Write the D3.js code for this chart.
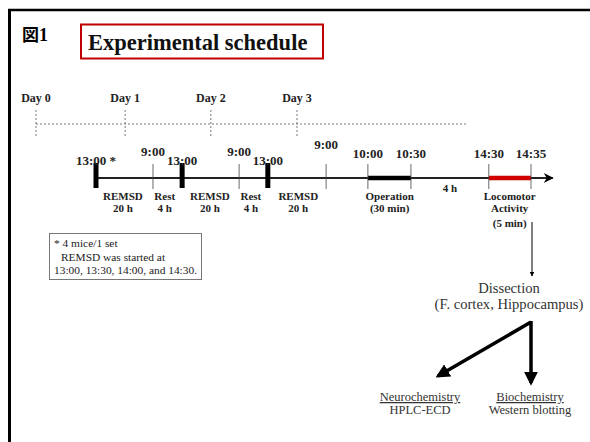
<!DOCTYPE html>
<html><head><meta charset="utf-8">
<script src="https://cdn.jsdelivr.net/npm/d3@7"></script>
<style>
html,body{margin:0;padding:0;background:#fff;}
svg{display:block;}
</style></head>
<body>
<svg id="c" width="590" height="442"></svg>
<script>
// ---- data (schematic positions along the timeline, 0..100 units) ----
const dayLabels = ["Day 0", "Day 1", "Day 2", "Day 3"];
const dayPos = [-13.8, 6.7, 26.4, 46.2];
const majorTimes = ["13:00 *", "13:00", "13:00"];
const majorPos = [0, 19.8, 39.5];
const minorTimes = ["9:00", "9:00", "9:00", "10:00", "10:30", "14:30", "14:35"];
const minorPos = [13.1, 32.9, 52.9, 62.5, 72.4, 90.3, 100];
const segLabels = [["REMSD", "20 h"], ["Rest", "4 h"], ["REMSD", "20 h"], ["Rest", "4 h"], ["REMSD", "20 h"], ["Operation", "(30 min)"], ["Locomotor", "Activity", "(5 min)"]];
const segCenters = [6.2, 15.8, 26.2, 35.6, 46.5, 67.5, 95.1];
const gapLabel = "4 h";
const gapPos = [72.4, 90.3];
const operation = [62.5, 72.4];
const locomotor = [90.3, 100];
const timelineEnd = 105;
const dashedEnd = 85.3;
const noteLines = ["* 4 mice/1 set", "REMSD was started at", "13:00, 13:30, 14:00, and 14:30."];
const dissection = ["Dissection", "(F. cortex, Hippocampus)"];
const outputs = [["Neurochemistry", "HPLC-ECD"], ["Biochemistry", "Western blotting"]];

const SERIF = "Liberation Serif";
const svg = d3.select("#c");
const x = d3.scaleLinear().domain([0, 100]).range([96, 531]);
const yTL = 178;
const T = (sel) => sel.append("text").attr("font-family", SERIF);

// frame
svg.append("line").attr("x1", 8).attr("x2", 590).attr("y1", 10).attr("y2", 10).attr("stroke", "#000").attr("stroke-width", 2.5);
svg.append("line").attr("x1", 9.5).attr("x2", 9.5).attr("y1", 9).attr("y2", 442).attr("stroke", "#000").attr("stroke-width", 3);

// title
const t1 = svg.append("text").attr("x", 22).attr("y", 41).attr("font-size", 17).attr("font-weight", "bold");
t1.append("tspan").attr("font-family", "Noto Sans CJK JP").text("図");
t1.append("tspan").attr("font-family", SERIF).attr("font-size", 18).text("1");
svg.append("rect").attr("x", 81).attr("y", 24.5).attr("width", 242).attr("height", 34).attr("fill", "none").attr("stroke", "#c00000").attr("stroke-width", 2);
T(svg).attr("x", 88).attr("y", 50).attr("font-size", 22.5).attr("font-weight", "bold").attr("fill", "#111").text("Experimental schedule");

// day labels & dashed
dayLabels.forEach((d, i) => {
  T(svg).attr("x", x(dayPos[i])).attr("y", 102).attr("text-anchor", "middle").attr("font-size", 12).attr("font-weight", "bold").attr("fill", "#222").text(d);
  svg.append("line").attr("x1", x(dayPos[i])).attr("x2", x(dayPos[i])).attr("y1", 110).attr("y2", 138).attr("stroke", "#555").attr("stroke-width", 0.8).attr("stroke-dasharray", "2,2");
});
svg.append("line").attr("x1", x(dayPos[0])).attr("x2", x(dashedEnd)).attr("y1", 124).attr("y2", 124).attr("stroke", "#555").attr("stroke-width", 0.8).attr("stroke-dasharray", "2,2");

// timeline
const defs = svg.append("defs");
defs.append("marker").attr("id", "ah").attr("viewBox", "0 0 10 10").attr("refX", 9).attr("refY", 5)
  .attr("markerWidth", 12).attr("markerHeight", 10).attr("markerUnits", "userSpaceOnUse").attr("orient", "auto")
  .append("path").attr("d", "M0,0 L10,5 L0,10 L3,5 Z").attr("fill", "#000");
svg.append("line").attr("x1", x(0)).attr("x2", x(timelineEnd)).attr("y1", yTL).attr("y2", yTL).attr("stroke", "#222").attr("stroke-width", 2).attr("marker-end", "url(#ah)");
svg.append("line").attr("x1", x(operation[0])).attr("x2", x(operation[1])).attr("y1", yTL).attr("y2", yTL).attr("stroke", "#000").attr("stroke-width", 4.5);
svg.append("line").attr("x1", x(locomotor[0])).attr("x2", x(locomotor[1])).attr("y1", yTL).attr("y2", yTL).attr("stroke", "#d00000").attr("stroke-width", 4.5);

majorPos.forEach((p, i) => {
  svg.append("rect").attr("x", x(p) - 2.5).attr("y", 163).attr("width", 5).attr("height", 25).attr("fill", "#000");
  T(svg).attr("x", i === 0 ? x(p) - 20 : x(p)).attr("y", 165).attr("text-anchor", i === 0 ? "start" : "middle").attr("font-size", 13).attr("font-weight", "bold").attr("fill", "#222").text(majorTimes[i]);
});
minorPos.forEach((p, i) => {
  svg.append("line").attr("x1", x(p)).attr("x2", x(p)).attr("y1", 164).attr("y2", 189).attr("stroke", "#444").attr("stroke-width", 0.8);
  T(svg).attr("x", x(p)).attr("y", i < 2 ? 156 : (i === 2 ? 149 : 158)).attr("text-anchor", "middle").attr("font-size", 13).attr("font-weight", "bold").attr("fill", "#222").text(minorTimes[i]);
});
segLabels.forEach((ls, i) => {
  ls.forEach((t, j) => {
    T(svg).attr("x", x(segCenters[i])).attr("y", 200 + j * 11.5 + (j === 2 ? 4 : 0)).attr("text-anchor", "middle").attr("font-size", 11).attr("font-weight", "bold").attr("fill", "#222").text(t);
  });
});
T(svg).attr("x", x((gapPos[0] + gapPos[1]) / 2)).attr("y", 192).attr("text-anchor", "middle").attr("font-size", 11).attr("font-weight", "bold").attr("fill", "#222").text(gapLabel);

// note box
svg.append("rect").attr("x", 49.5).attr("y", 233.5).attr("width", 152).attr("height", 46).attr("fill", "none").attr("stroke", "#777").attr("stroke-width", 1);
noteLines.forEach((t, i) => {
  T(svg).attr("x", i === 1 ? 61 : 54).attr("y", 247 + i * 13.5).attr("font-size", 11.4).attr("fill", "#222").text(t);
});

// arrow to dissection
defs.append("marker").attr("id", "ah2").attr("viewBox", "0 0 10 10").attr("refX", 9).attr("refY", 5)
  .attr("markerWidth", 5).attr("markerHeight", 5).attr("markerUnits", "userSpaceOnUse").attr("orient", "auto")
  .append("path").attr("d", "M0,0 L10,5 L0,10 Z").attr("fill", "#000");
svg.append("line").attr("x1", 532).attr("x2", 532).attr("y1", 222).attr("y2", 276).attr("stroke", "#000").attr("stroke-width", 1).attr("marker-end", "url(#ah2)");

dissection.forEach((t, i) => {
  T(svg).attr("x", 509).attr("y", 293 + i * 15.5).attr("text-anchor", "middle").attr("font-size", 14.6).attr("fill", "#333").text(t);
});

// thick arrows
defs.append("marker").attr("id", "ah3").attr("viewBox", "0 0 10 10").attr("refX", 8).attr("refY", 5)
  .attr("markerWidth", 14).attr("markerHeight", 14).attr("markerUnits", "userSpaceOnUse").attr("orient", "auto")
  .append("path").attr("d", "M0,0 L10,5 L0,10 Z").attr("fill", "#000");
svg.append("line").attr("x1", 531).attr("y1", 322).attr("x2", 438).attr("y2", 376).attr("stroke", "#000").attr("stroke-width", 3.5).attr("marker-end", "url(#ah3)");
svg.append("line").attr("x1", 531).attr("y1", 321).attr("x2", 531).attr("y2", 383).attr("stroke", "#000").attr("stroke-width", 3.5).attr("marker-end", "url(#ah3)");

const outX = [420, 530];
outputs.forEach((o, i) => {
  T(svg).attr("x", outX[i]).attr("y", 401).attr("text-anchor", "middle").attr("font-size", 12.5).attr("fill", "#333").attr("text-decoration", "underline").text(o[0]);
  T(svg).attr("x", outX[i]).attr("y", 414).attr("text-anchor", "middle").attr("font-size", 12.5).attr("fill", "#333").text(o[1]);
});
</script>
</body></html>
